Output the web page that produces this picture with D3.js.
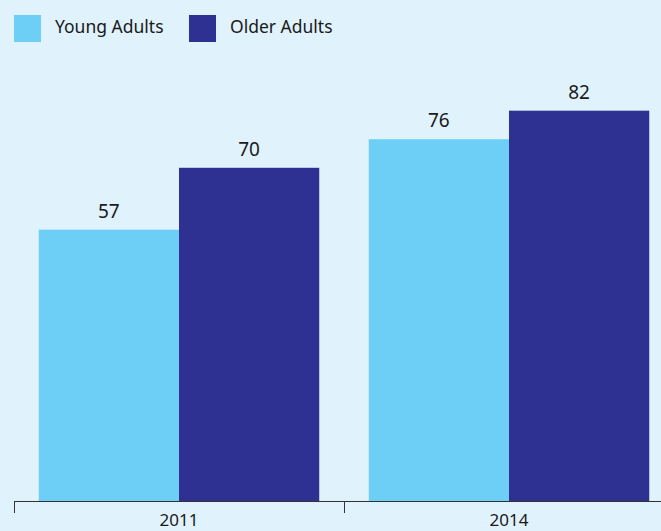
<!DOCTYPE html>
<html>
<head>
<meta charset="utf-8">
<script src="https://cdn.jsdelivr.net/npm/d3@7"></script>
<style>
  body { margin: 0; background: #e0f2fc; }
  text { font-family: "Noto Sans", sans-serif; fill: #1a1a1a; }
</style>
</head>
<body>
<div id="chart"></div>
<script>
var years = ["2011", "2014"];
var seriesNames = ["Young Adults", "Older Adults"];
var youngValues = [57, 76];
var olderValues = [70, 82];
var colors = ["#6dcff6", "#2e3192"];

var width = 661, height = 531;
var baseline = 501;

var svg = d3.select("#chart")
	.append("svg")
		.attr("width", width)
		.attr("height", height);

svg.append("rect")
	.attr("width", width)
	.attr("height", height)
	.attr("fill", "#e0f2fc");

// band for the axis (ticks at the edges)
var xAxisBand = d3.scaleBand()
	.domain(years)
	.range([14, 674])
	.padding(0);

// band for the bars
var x = d3.scaleBand()
	.domain(years)
	.range([14, 674])
	.paddingInner(0.15)
	.paddingOuter(0.075);

var xSub = d3.scaleBand()
	.domain(seriesNames)
	.range([0, x.bandwidth()])
	.padding(0);

var y = d3.scaleLinear()
	.domain([0, 100])
	.range([baseline, 25]);

var color = d3.scaleOrdinal()
	.domain(seriesNames)
	.range(colors);

var data = years.map(function(yr, i) {
	return { year: yr, values: [youngValues[i], olderValues[i]] };
});

var groups = svg.append("g")
	.selectAll("g")
	.data(data)
	.enter().append("g")
		.attr("transform", function(d) { return "translate(" + x(d.year) + ",0)"; });

var cells = groups.selectAll("g")
	.data(function(d) { return seriesNames.map(function(k, j) { return { key: k, value: d.values[j] }; }); })
	.enter().append("g");

cells.append("rect")
	.attr("x", function(d) { return xSub(d.key); })
	.attr("y", function(d) { return y(d.value); })
	.attr("width", xSub.bandwidth())
	.attr("height", function(d) { return baseline - y(d.value); })
	.attr("fill", function(d) { return color(d.key); });

cells.append("text")
	.attr("x", function(d) { return xSub(d.key) + xSub.bandwidth() / 2; })
	.attr("y", function(d) { return y(d.value) - 12; })
	.attr("text-anchor", "middle")
	.style("font-size", "19px")
	.text(function(d) { return d.value; });

// axis
var axis = svg.append("g");
axis.append("line")
	.attr("x1", xAxisBand.range()[0])
	.attr("x2", width)
	.attr("y1", baseline + 0.5)
	.attr("y2", baseline + 0.5)
	.attr("stroke", "#333")
	.attr("stroke-width", 1);

axis.selectAll(".tick")
	.data(years)
	.enter().append("line")
		.attr("x1", function(d) { return Math.round(xAxisBand(d)) + 0.5; })
		.attr("x2", function(d) { return Math.round(xAxisBand(d)) + 0.5; })
		.attr("y1", baseline)
		.attr("y2", baseline + 12)
		.attr("stroke", "#333");

axis.selectAll(".lbl")
	.data(years)
	.enter().append("text")
		.attr("x", function(d) { return xAxisBand(d) + xAxisBand.bandwidth() / 2; })
		.attr("y", baseline + 25)
		.attr("text-anchor", "middle")
		.style("font-size", "17px")
		.text(function(d) { return d; });

// legend
var legendX = [14, 189];
var legend = svg.append("g")
	.selectAll("g")
	.data(seriesNames)
	.enter().append("g")
		.attr("transform", function(d, i) { return "translate(" + legendX[i] + ",15)"; });

legend.append("rect")
	.attr("width", 27)
	.attr("height", 27)
	.attr("fill", function(d) { return color(d); });

legend.append("text")
	.attr("x", 41)
	.attr("y", 18)
	.style("font-size", "17.5px")
	.text(function(d) { return d; });
</script>
</body>
</html>
